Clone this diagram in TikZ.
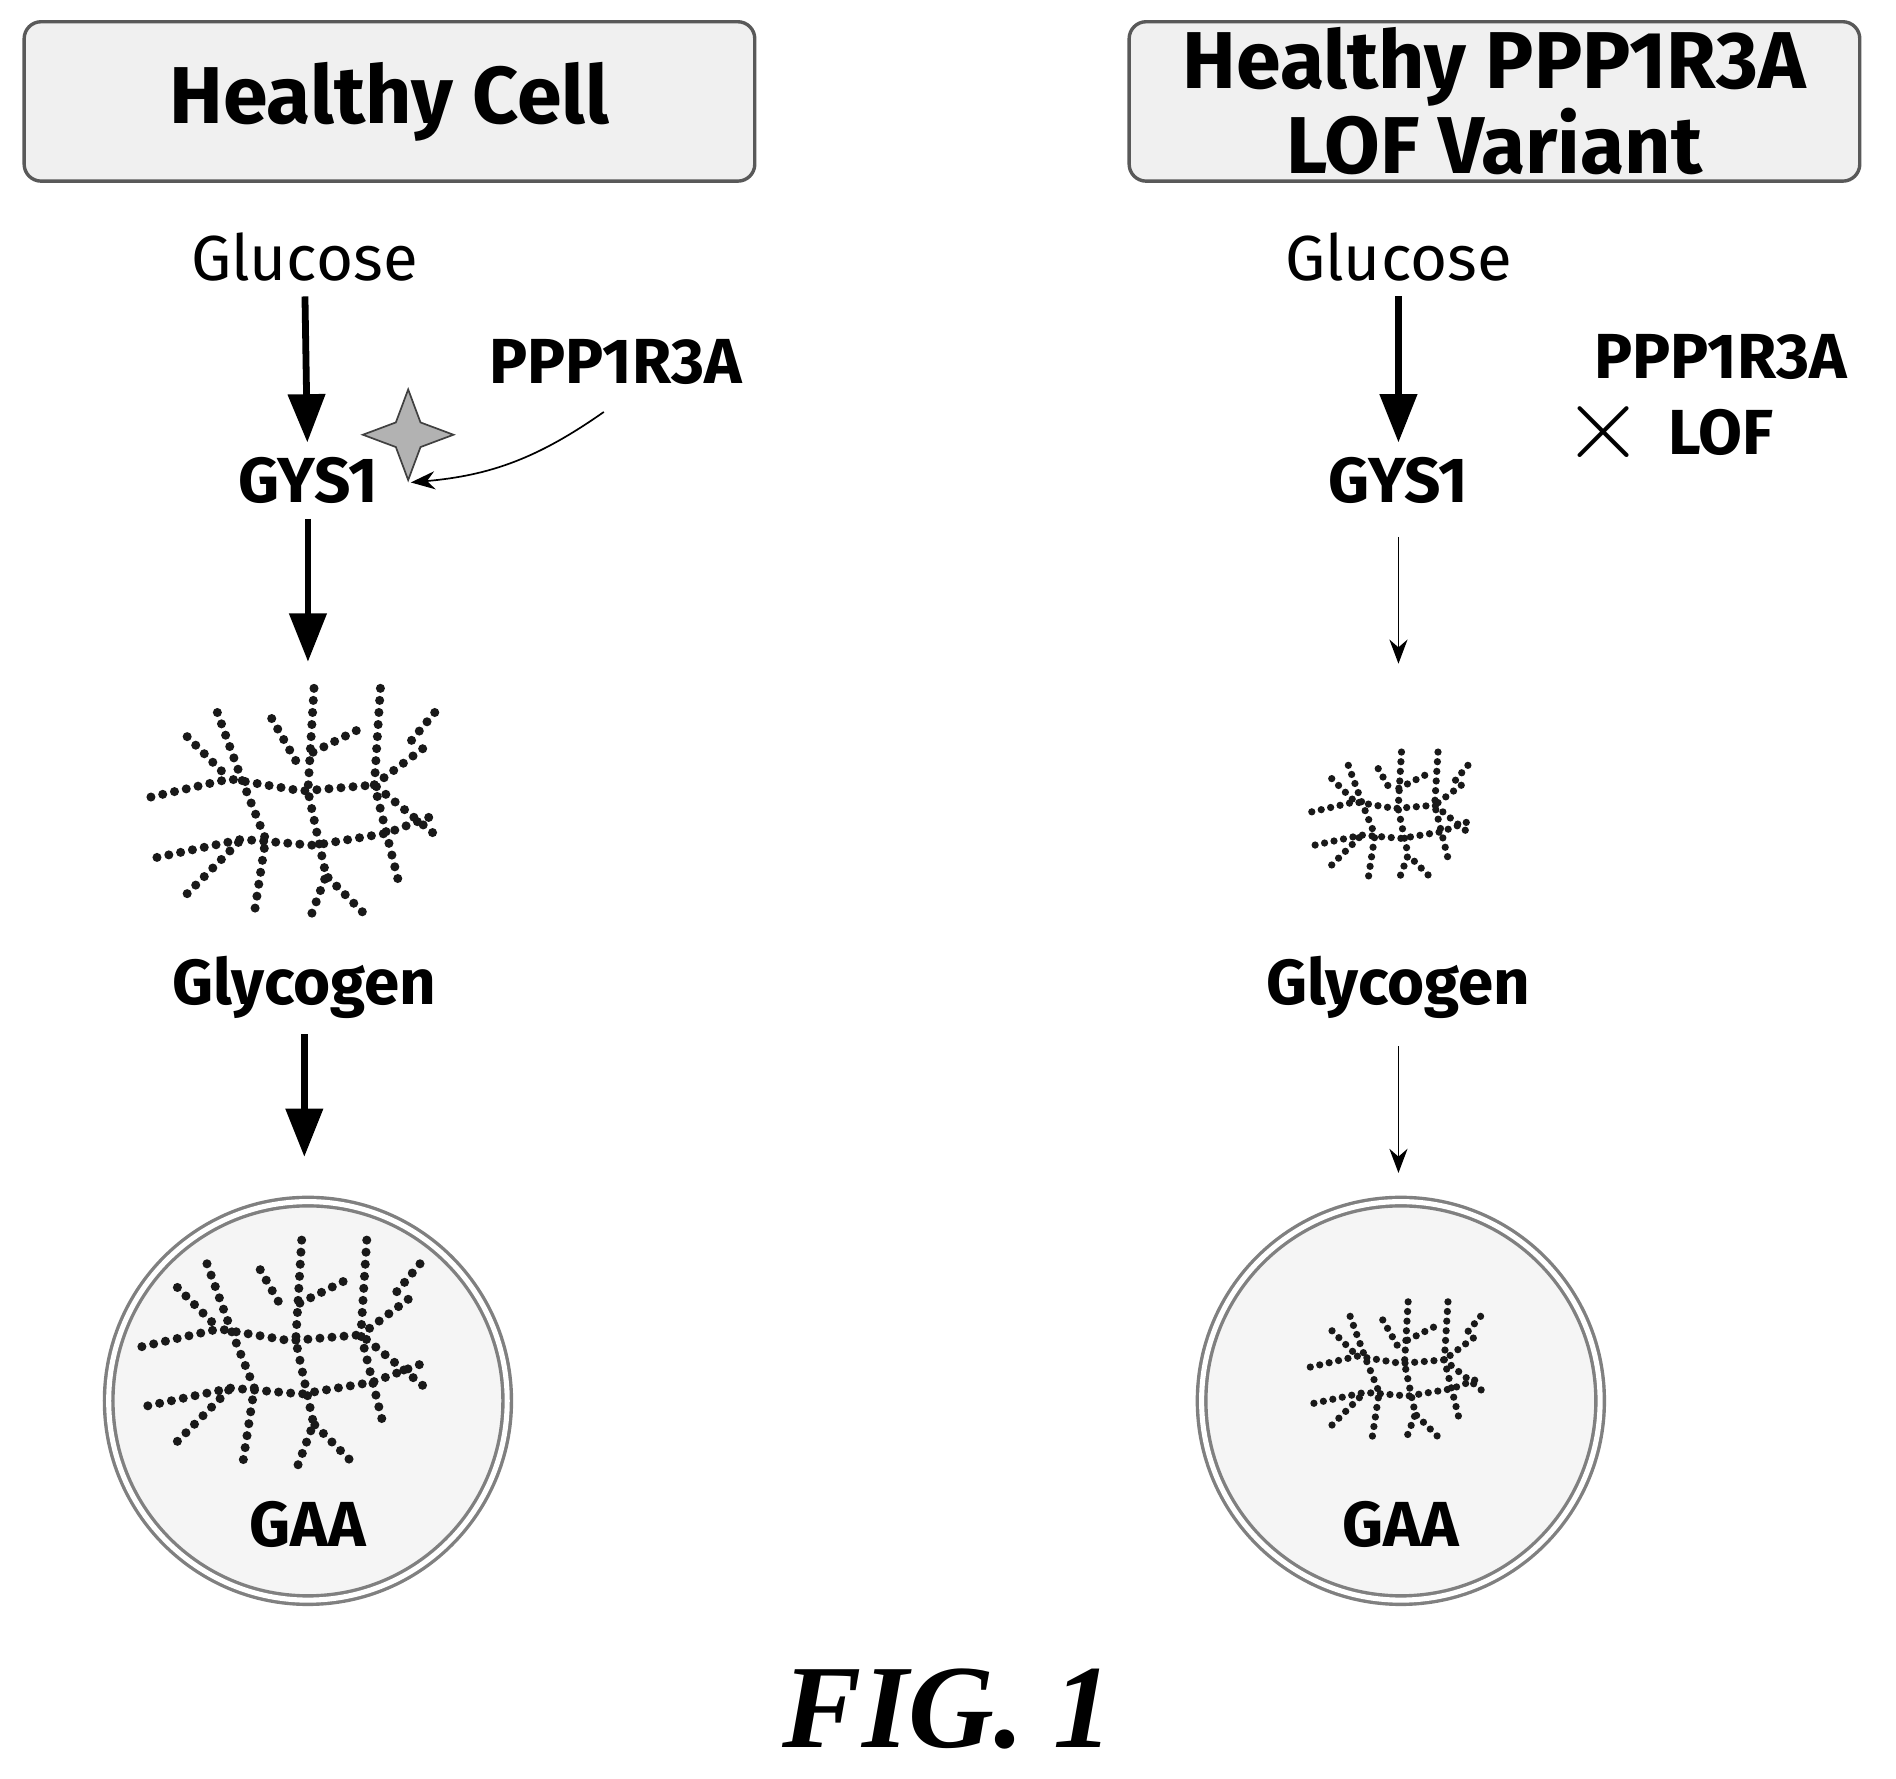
\documentclass[tikz,border=0pt]{standalone}
\usepackage{fontspec}
\setmainfont{Fira Sans}
\newfontfamily\figfont{Liberation Serif}
\usetikzlibrary{arrows.meta, shapes.geometric, positioning, calc, patterns}

% one glycogen particle, drawn round the origin
\newcommand{\glycogen}{%
  \draw[chain] (-1.25,0.05) -- (-0.6,0.2) -- (0,0.1) -- (0.6,0.15) -- (1.15,-0.3);
  \draw[chain] (-1.2,-0.45) -- (-0.5,-0.3) -- (0.1,-0.35) -- (0.7,-0.25) -- (1.1,-0.1);
  \draw[chain] (-0.7,0.75) -- (-0.5,0.2) -- (-0.3,-0.3) -- (-0.4,-0.95);
  \draw[chain] (0.1,0.95) -- (0.05,0.1) -- (0.2,-0.6) -- (0.05,-1.0);
  \draw[chain] (0.65,0.95) -- (0.6,0.15) -- (0.8,-0.65);
  \draw[chain] (-0.95,0.55) -- (-0.6,0.2);
  \draw[chain] (0.45,0.6) -- (0.05,0.4);
  \draw[chain] (-0.25,0.7) -- (-0.05,0.35);
  \draw[chain] (1.0,0.45) -- (0.6,0.15);
  \draw[chain] (-0.95,-0.75) -- (-0.5,-0.3);
  \draw[chain] (0.5,-0.9) -- (0.2,-0.6);
  \draw[chain] (1.1,0.75) -- (0.85,0.45);
}

\begin{document}
\begin{tikzpicture}[
  % --- styles ------------------------------------------------------------
  title/.style={rectangle, draw=gray!70!black, rounded corners=4pt, thick,
    minimum width=6.05cm, minimum height=1.32cm, font=\fontsize{19}{20}\selectfont\bfseries,
    align=center, fill=gray!12, inner sep=1pt},
  plain/.style={font=\fontsize{15}{17}\selectfont\light},
  label/.style={font=\fontsize{15}{17}\selectfont\bfseries},
  flow/.style={-{Triangle[length=4mm,width=3mm]}, line width=1.6pt},
  weak/.style={-{Stealth[length=2mm,width=1.5mm]}, thin},
  chain/.style={line width=0.75mm, dash pattern=on 0pt off 1mm, line cap=round, gray!20!black},
  small/.style={line width=0.6mm, dash pattern=on 0pt off 0.8mm},
  vesicle/.style={circle, draw=gray, double=white, double distance=1.2pt, thick,
    fill=gray!8},
]
\providecommand{\light}{}
\useasboundingbox (0,0) rectangle (15.7,-14.73);

% --------------------- left: healthy cell -------------------------------
\node[title] (titleL) at (3.225,-0.84) {Healthy Cell};
\node[plain] (glucL) at (2.52,-2.13) {Glucose};
\node[label] (gysL) at (2.55,-3.98) {GYS1};
\node[label] (glycL) at (2.52,-8.18) {Glycogen};
\node[vesicle, minimum size=3.3cm] (lysL) at (2.55,-11.6) {};
\node[label] (gaaL) at (2.55,-12.62) {GAA};
\node[label] (pppL) at (5.1,-3.0) {PPP1R3A};
\node[star, star points=4, star point ratio=2.6, minimum size=0.75cm, inner sep=0pt,
  fill=gray!60, draw=gray!50!black] (actL) at (3.38,-3.6) {};
\coordinate (parL) at (2.5,-6.65);

\draw[flow] (glucL) -- (gysL);
\draw[flow] (gysL) -- ++(0,-1.5);
\draw[flow] (glycL) -- ++(0,-1.4);
\draw[weak] (pppL.south) ++(-0.1,-0.1) coordinate (pppLs) to[bend left=15] ($(gysL.east |- actL.south)+(0.15,0)$);
\begin{scope}[shift={(parL)}]\glycogen\end{scope}
\begin{scope}[shift={(2.4,-11.2)}, scale=0.98]\glycogen\end{scope}

% --------------------- right: LOF variant -------------------------------
\node[title] (titleR) at (12.375,-0.84) {Healthy PPP1R3A\\LOF Variant};
\node[plain] (glucR) at (11.58,-2.13) {Glucose};
\node[label] (gysR) at (11.58,-3.98) {GYS1};
\node[label] (glycR) at (11.58,-8.18) {Glycogen};
\node[vesicle, minimum size=3.3cm] (lysR) at (11.6,-11.6) {};
\node[label] (gaaR) at (11.6,-12.62) {GAA};
\node[label] (pppR) at (14.25,-2.96) {PPP1R3A};
\node[label] (lofR) at (14.25,-3.58) {LOF};
\node[font=\fontsize{26}{26}\selectfont, inner sep=0pt] (xR) at (13.28,-3.58) {$\times$};

\draw[flow] (glucR) -- (gysR);
\draw[weak] (gysR.south) ++(0,-0.15) -- ++(0,-1.05);
\draw[weak] (glycR.south) ++(0,-0.1) -- ++(0,-1.05);
\begin{scope}[shift={(11.55,-6.75)}, scale=0.55, chain/.append style=small]\glycogen\end{scope}
\begin{scope}[shift={(11.6,-11.35)}, scale=0.6, chain/.append style=small]\glycogen\end{scope}

% --------------------- figure caption -----------------------------------
\node[font=\figfont\fontsize{28}{28}\selectfont\bfseries\itshape] (fig) at (7.85,-14.15) {FIG. 1};
\end{tikzpicture}
\end{document}
